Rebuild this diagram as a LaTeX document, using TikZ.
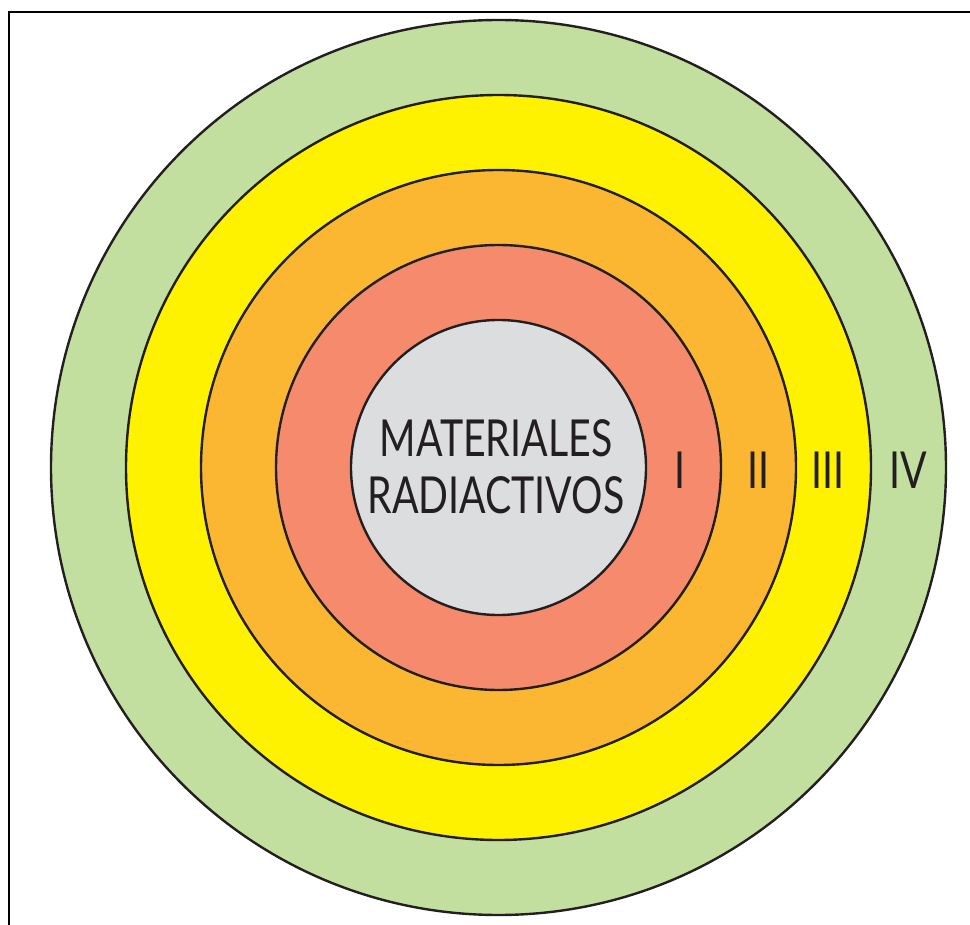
\documentclass[tikz,border=0pt]{standalone}
\usepackage{fontspec}
\setmainfont{Lato}
\definecolor{ringgreen}{HTML}{C3DFA0}
\definecolor{ringyellow}{HTML}{FFF200}
\definecolor{ringorange}{HTML}{FBB731}
\definecolor{ringsalmon}{HTML}{F58A6C}
\definecolor{coregray}{HTML}{DCDDDE}
\definecolor{inkdark}{HTML}{231F20}
\begin{document}
\begin{tikzpicture}[x=1pt,y=-1pt,
  ring/.style={circle, draw=inkdark, line width=2.4pt, inner sep=0pt},
  lbl/.style={text=inkdark, inner sep=0pt, xscale=0.77, font=\fontsize{51}{57}\selectfont},
  frame/.style={draw=black, line width=2pt}]
\useasboundingbox (0,0) rectangle (970,925);
\coordinate (c) at (498.5,467.5);
\draw[frame] (9,926) -- (9,12) -- (972,12);
\node[ring, fill=ringgreen, minimum size=895pt] (r4) at (c) {};
\node[ring, fill=ringyellow, minimum size=745pt] (r3) at (c) {};
\node[ring, fill=ringorange, minimum size=595pt] (r2) at (c) {};
\node[ring, fill=ringsalmon, minimum size=445pt] (r1) at (c) {};
\node[ring, fill=coregray, minimum size=295pt] (core) at (c) {};
\node[lbl, align=center] (txt) at (496,467) {MATERIALES\\RADIACTIVOS};
\node[lbl] (l1) at (680,470) {I};
\node[lbl] (l2) at (758,470) {II};
\node[lbl] (l3) at (828,470) {III};
\node[lbl] (l4) at (908,470) {IV};
\end{tikzpicture}
\end{document}
